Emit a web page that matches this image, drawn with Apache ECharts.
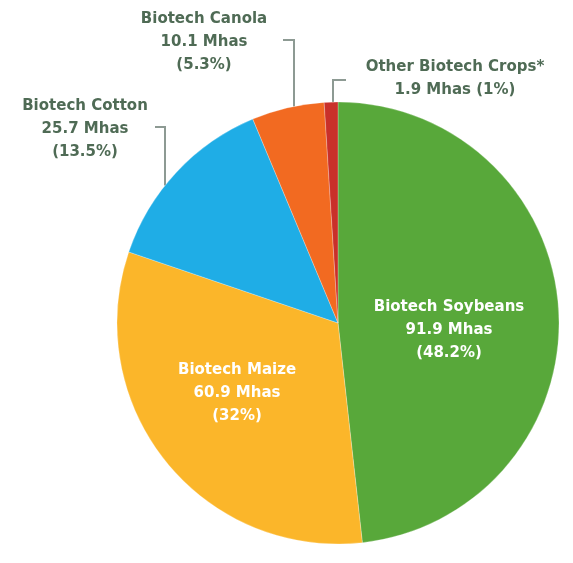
<!DOCTYPE html>
<html>
<head>
<meta charset="utf-8">
<style>
  html, body { margin: 0; padding: 0; background: #ffffff; }
  #chart { width: 573px; height: 563px; }
</style>
<script src="https://cdn.jsdelivr.net/npm/echarts@6/dist/echarts.min.js"></script>
</head>
<body>
<div id="chart"></div>
<script>
// Global area of biotech crops, million hectares
const categories = ['Biotech Soybeans', 'Biotech Maize', 'Biotech Cotton', 'Biotech Canola', 'Other Biotech Crops*'];
const areaMhas = [91.9, 60.9, 25.7, 10.1, 1.9];
const shareLabels = ['48.2%', '32%', '13.5%', '5.3%', '1%'];
const sliceColors = ['#58a83a', '#fbb62a', '#1fade6', '#f26a21', '#c9302a'];

const CX = 338, CY = 323, R = 221;

// where each label block is centred; outside labels also get an elbow callout
const labelSpots = {
  0: { x: 449, y: 330 },
  1: { x: 237, y: 393 },
  2: { x: 85, y: 129, lineX: 165, elbow: [165, 127], end: [155, 127] },
  3: { x: 204, y: 42, lineX: 294, elbow: [294, 40], end: [283, 40] },
  4: { x: 455, y: 79, lineX: 333, elbow: [333, 80], end: [346, 80] }
};

// point on the upper rim of the pie at a given x
function rimPoint(x) {
  return [x, CY - Math.sqrt(R * R - (x - CX) * (x - CX))];
}

const chart = echarts.init(document.getElementById('chart'));

const data = categories.map((name, i) => {
  const inside = i < 2;
  const text = i === 4
    ? name + '\n' + areaMhas[i] + ' Mhas (' + shareLabels[i] + ')'
    : name + '\n' + areaMhas[i] + ' Mhas\n(' + shareLabels[i] + ')';
  return {
    name: name,
    value: areaMhas[i],
    itemStyle: { color: sliceColors[i] },
    label: {
      show: true,
      position: inside ? 'inside' : 'outside',
      formatter: text,
      color: inside ? '#ffffff' : '#4f6b55',
      fontFamily: 'DejaVu Sans',
      fontWeight: 'bold',
      fontSize: 15,
      lineHeight: 23,
      align: 'center'
    },
    labelLine: {
      show: !inside,
      lineStyle: { color: '#8d9a93', width: 2 }
    }
  };
});

chart.setOption({
  animation: false,
  series: [{
    type: 'pie',
    center: [CX, CY],
    radius: R,
    startAngle: 90,
    clockwise: true,
    avoidLabelOverlap: false,
    itemStyle: { borderColor: 'rgba(255,255,255,0.5)', borderWidth: 0.5 },
    data: data,
    labelLayout: function (params) {
      const s = labelSpots[params.dataIndex];
      const layout = { x: s.x, y: s.y, align: 'center', verticalAlign: 'middle' };
      if (s.lineX !== undefined) {
        layout.labelLinePoints = [rimPoint(s.lineX), s.elbow, s.end];
      }
      return layout;
    }
  }]
});
</script>
</body>
</html>
